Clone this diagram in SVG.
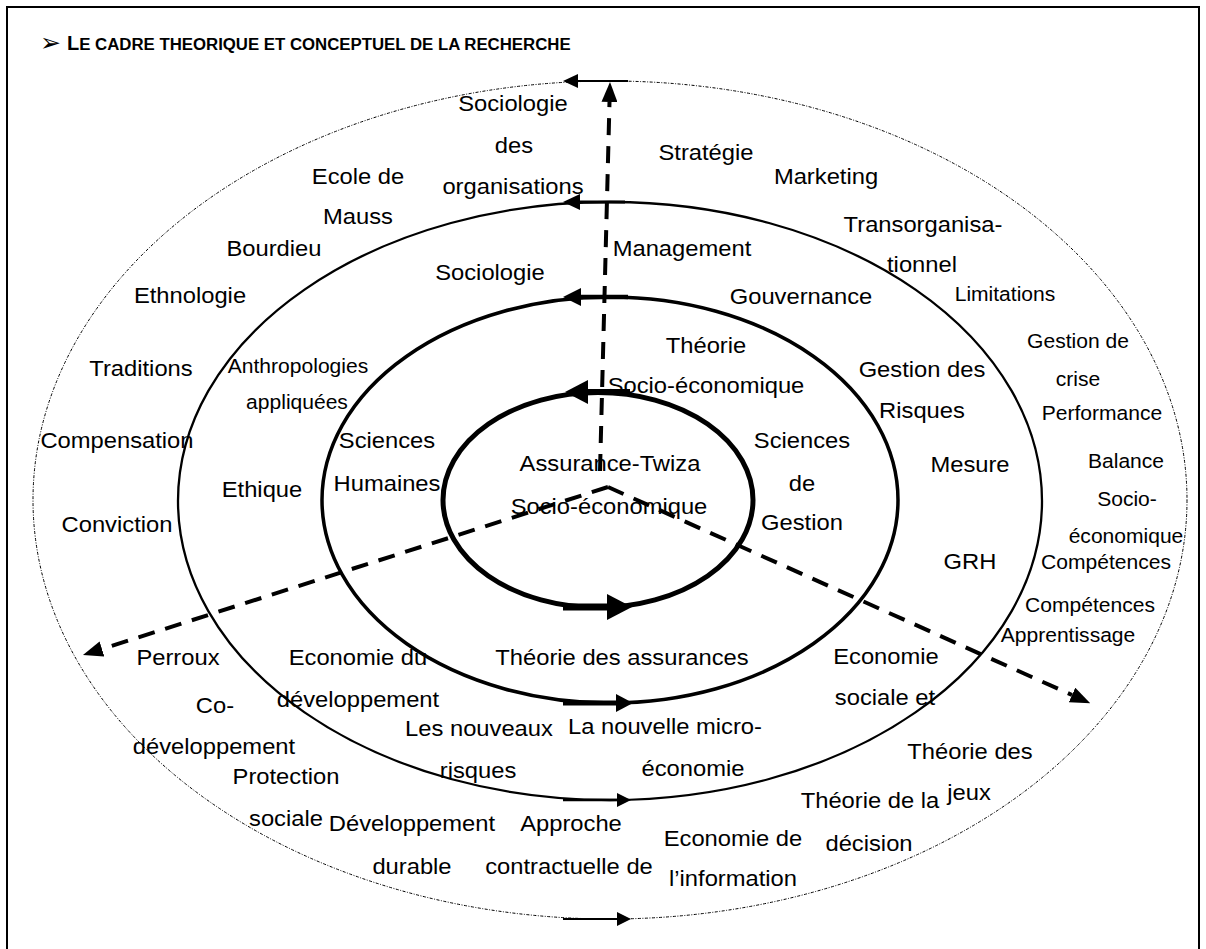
<svg xmlns="http://www.w3.org/2000/svg" width="1206" height="949" viewBox="0 0 1206 949">
  <style>
    .lbl { font-family: "Liberation Sans", Arial, sans-serif; font-size: 22px; fill: #000; text-anchor: middle;
           transform: scaleX(1.08); transform-box: fill-box; transform-origin: center; }
    .sm { font-size: 19.5px; }
    .title { font-family: "Liberation Sans", Arial, sans-serif; font-weight: bold; fill: #000; }
    .ring { fill: none; stroke: #000; }
    .dash { fill: none; stroke: #000; stroke-width: 4; stroke-dasharray: 17 11; }
    .flow { stroke: #000; }
    .head { fill: #000; stroke: none; }
  </style>
  <defs>
    <marker id="tip" viewBox="0 0 20 16" markerWidth="20" markerHeight="16" refX="0" refY="8"
            orient="auto" markerUnits="userSpaceOnUse">
      <path d="M0,0 L20,8 L0,16 Z" fill="#000"/>
    </marker>
  </defs>

  <rect width="1206" height="949" fill="#fff"/>
  <!-- page frame (open at the bottom) -->
  <rect x="7" y="7" width="1192" height="1000" fill="none" stroke="#000" stroke-width="2"/>

  <!-- heading -->
  <text class="title" x="40" y="51"><tspan font-family="DejaVu Sans, sans-serif" font-size="25" font-weight="bold">➢</tspan><tspan x="67" y="50" font-size="20">L</tspan><tspan font-size="16.8">E CADRE THEORIQUE ET CONCEPTUEL DE LA RECHERCHE</tspan></text>

  <!-- concentric rings -->
  <g id="rings">
    <ellipse class="ring" cx="610" cy="500" rx="577" ry="419" stroke="#444" stroke-width="1" stroke-dasharray="3 1.5 1 1.5"/>
    <ellipse class="ring" cx="610" cy="501" rx="432" ry="299" stroke-width="2.3"/>
    <ellipse class="ring" cx="610" cy="500" rx="288" ry="203" stroke-width="3.5"/>
    <ellipse class="ring" cx="598" cy="500" rx="155" ry="107.5" stroke-width="5"/>
  </g>

  <!-- connectors: radial dashed axes and circulation arrows on the rings -->
  <g id="connectors">
    <line class="dash" x1="608" y1="487" x2="102" y2="649" marker-end="url(#tip)"/>
    <line class="dash" x1="608" y1="487" x2="1072" y2="695" marker-end="url(#tip)"/>
    <line class="dash" x1="600" y1="471" x2="609.5" y2="102" marker-end="url(#tip)"/>

    <line class="flow" x1="628" y1="81" x2="575" y2="81" stroke-width="2"/>
    <polygon class="head" points="563,81 578,74 578,88"/>
    <line class="flow" x1="625" y1="202" x2="577" y2="202" stroke-width="3"/>
    <polygon class="head" points="563,202 580,194 580,210"/>
    <line class="flow" x1="628" y1="297" x2="578" y2="297" stroke-width="4.5"/>
    <polygon class="head" points="563,297 581,288 581,306"/>
    <line class="flow" x1="630" y1="392" x2="582" y2="392" stroke-width="6"/>
    <polygon class="head" points="565,392 588,380 588,404"/>

    <line class="flow" x1="563" y1="607" x2="610" y2="607" stroke-width="7"/>
    <polygon class="head" points="632,607 607,594 607,620"/>
    <line class="flow" x1="563" y1="703" x2="618" y2="703" stroke-width="5"/>
    <polygon class="head" points="633,703 616,694 616,712"/>
    <line class="flow" x1="563" y1="800" x2="618" y2="800" stroke-width="2.5"/>
    <polygon class="head" points="631,800 617,793 617,807"/>
    <line class="flow" x1="563" y1="919" x2="618" y2="919" stroke-width="2"/>
    <polygon class="head" points="631,919 617,912 617,926"/>
  </g>

  <!-- core -->
  <g id="assurance-twiza">
    <text class="lbl" x="610" y="471">Assurance-Twiza</text>
    <text class="lbl" x="609" y="514">Socio-économique</text>
  </g>

  <!-- third ring -->
  <g id="theorie-socio-economique">
    <text class="lbl" x="706" y="353">Théorie</text>
    <text class="lbl" x="706" y="393">Socio-économique</text>
  </g>
  <g id="sciences-humaines">
    <text class="lbl" x="387" y="448">Sciences</text>
    <text class="lbl" x="387" y="491">Humaines</text>
  </g>
  <g id="sciences-de-gestion">
    <text class="lbl" x="802" y="448">Sciences</text>
    <text class="lbl" x="802" y="491">de</text>
    <text class="lbl" x="802" y="530">Gestion</text>
  </g>
  <g id="theorie-des-assurances">
    <text class="lbl" x="622" y="665">Théorie des assurances</text>
  </g>

  <!-- second ring -->
  <g id="management"><text class="lbl" x="682" y="256">Management</text></g>
  <g id="sociologie"><text class="lbl" x="490" y="280">Sociologie</text></g>
  <g id="gouvernance"><text class="lbl" x="801" y="304">Gouvernance</text></g>
  <g id="anthropologies">
    <text class="lbl sm" x="298" y="373">Anthropologies</text>
    <text class="lbl sm" x="297" y="409">appliquées</text>
  </g>
  <g id="gestion-des-risques">
    <text class="lbl" x="922" y="377">Gestion des</text>
    <text class="lbl" x="922" y="418">Risques</text>
  </g>
  <g id="ethique"><text class="lbl" x="262" y="497">Ethique</text></g>
  <g id="mesure"><text class="lbl" x="970" y="472">Mesure</text></g>
  <g id="grh"><text class="lbl" x="970" y="569">GRH</text></g>
  <g id="economie-du-developpement">
    <text class="lbl" x="358" y="665">Economie du</text>
    <text class="lbl" x="358" y="707">développement</text>
  </g>
  <g id="nouveaux-risques">
    <text class="lbl" x="479" y="736">Les nouveaux</text>
    <text class="lbl" x="478" y="778">risques</text>
  </g>
  <g id="nouvelle-microeconomie">
    <text class="lbl" x="665" y="734">La nouvelle micro-</text>
    <text class="lbl" x="693" y="776">économie</text>
  </g>

  <!-- outer ring -->
  <g id="sociologie-des-organisations">
    <text class="lbl" x="513" y="111">Sociologie</text>
    <text class="lbl" x="514" y="153">des</text>
    <text class="lbl" x="513" y="194">organisations</text>
  </g>
  <g id="strategie"><text class="lbl" x="706" y="160">Stratégie</text></g>
  <g id="marketing"><text class="lbl" x="826" y="184">Marketing</text></g>
  <g id="ecole-de-mauss">
    <text class="lbl" x="358" y="184">Ecole de</text>
    <text class="lbl" x="358" y="224">Mauss</text>
  </g>
  <g id="bourdieu"><text class="lbl" x="274" y="256">Bourdieu</text></g>
  <g id="transorganisationnel">
    <text class="lbl" x="923" y="232">Transorganisa-</text>
    <text class="lbl" x="922" y="272">tionnel</text>
  </g>
  <g id="limitations"><text class="lbl sm" x="1005" y="301">Limitations</text></g>
  <g id="ethnologie"><text class="lbl" x="190" y="303">Ethnologie</text></g>
  <g id="gestion-de-crise">
    <text class="lbl sm" x="1078" y="348">Gestion de</text>
    <text class="lbl sm" x="1078" y="386">crise</text>
  </g>
  <g id="traditions"><text class="lbl" x="141" y="376">Traditions</text></g>
  <g id="performance"><text class="lbl sm" x="1102" y="420">Performance</text></g>
  <g id="compensation"><text class="lbl" x="117" y="448">Compensation</text></g>
  <g id="balance-socio-economique">
    <text class="lbl sm" x="1126" y="468">Balance</text>
    <text class="lbl sm" x="1127" y="506">Socio-</text>
    <text class="lbl sm" x="1126" y="543">économique</text>
  </g>
  <g id="conviction"><text class="lbl" x="117" y="532">Conviction</text></g>
  <g id="competences"><text class="lbl sm" x="1106" y="569">Compétences</text></g>
  <g id="competences-apprentissage">
    <text class="lbl sm" x="1090" y="612">Compétences</text>
    <text class="lbl sm" x="1068" y="642">Apprentissage</text>
  </g>
  <g id="perroux"><text class="lbl" x="178" y="665">Perroux</text></g>
  <g id="economie-sociale">
    <text class="lbl" x="886" y="664">Economie</text>
    <text class="lbl" x="885" y="705">sociale et</text>
  </g>
  <g id="co-developpement">
    <text class="lbl" x="215" y="713">Co-</text>
    <text class="lbl" x="214" y="754">développement</text>
  </g>
  <g id="theorie-des-jeux">
    <text class="lbl" x="970" y="759">Théorie des</text>
    <text class="lbl" x="969" y="800">jeux</text>
  </g>
  <g id="protection-sociale">
    <text class="lbl" x="286" y="784">Protection</text>
    <text class="lbl" x="286" y="826">sociale</text>
  </g>
  <g id="developpement-durable">
    <text class="lbl" x="412" y="831">Développement</text>
    <text class="lbl" x="412" y="874">durable</text>
  </g>
  <g id="approche-contractuelle">
    <text class="lbl" x="571" y="831">Approche</text>
    <text class="lbl" x="569" y="874">contractuelle de</text>
  </g>
  <g id="theorie-de-la-decision">
    <text class="lbl" x="870" y="808">Théorie de la</text>
    <text class="lbl" x="869" y="851">décision</text>
  </g>
  <g id="economie-de-l-information">
    <text class="lbl" x="733" y="846">Economie de</text>
    <text class="lbl" x="733" y="886">l’information</text>
  </g>
</svg>
